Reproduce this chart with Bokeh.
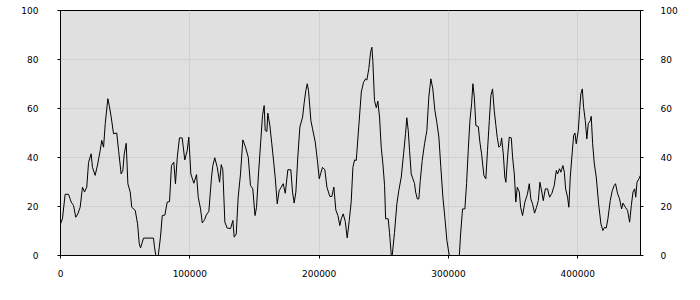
from bokeh.plotting import figure
from bokeh.models import LinearAxis, Range1d, FixedTicker, ColumnDataSource
from bokeh.embed import file_html
from bokeh.resources import INLINE

# x positions (thousands) and values
x_k = [0, 1.5, 3.6, 6.2, 7.5, 8.3, 10.1, 11.8, 13.4, 15.2, 17.0, 18.6, 20.3, 21.7, 23.7, 24.7,
       26.8, 28.8, 30.7, 31.9, 33.3, 34.6, 36.6, 37.7, 39.2, 41.0, 43.5, 44.9, 46.9, 48.2, 49.3,
       50.8, 52.1, 53.9, 55.1, 57.8, 59.6, 60.9, 61.9, 64.2, 71.9, 72.7, 73.7, 75.6, 77.3, 78.7,
       80.7, 82.5, 84.3, 85.8, 87.6, 88.9, 90.3, 92.0, 94.1, 96.1, 98.0, 99.2, 100.8, 103.1,
       105.2, 106.5, 108.3, 109.6, 111.4, 112.7, 114.7, 116.8, 117.8, 119.3, 121.2, 123.0, 124.3,
       125.5, 127.1, 128.9, 131.5, 133.3, 134.3, 135.9, 137.4, 139.2, 141.0, 143.1, 145.2, 146.9,
       148.7, 150.4, 151.6, 153.1, 154.9, 156.2, 157.5, 158.3, 159.6, 160.3, 161.9, 163.4, 165.0,
       166.0, 167.6, 169.1, 170.7, 172.2, 173.8, 175.8, 178.1, 179.4, 180.7, 182.0, 183.5, 185.1,
       187.2, 188.5, 189.7, 190.8, 191.8, 193.6, 194.9, 197.0, 198.8, 200.1, 201.1, 202.6, 204.4,
       206.0, 208.3, 209.8, 211.4, 212.9, 214.5, 216.0, 217.1, 218.6, 220.2, 221.7, 223.3, 224.8,
       226.1, 227.4, 228.7, 230.7, 232.6, 234.3, 235.9, 236.9, 238.4, 239.8, 240.8, 241.5, 242.8,
       244.2, 245.4, 246.7, 248.0, 249.3, 250.6, 251.4, 253.4, 254.4, 255.8, 256.5, 258.3, 260.1,
       261.6, 263.5, 265.3, 266.8, 267.8, 268.9, 269.9, 271.2, 272.5, 273.8, 274.6, 275.9, 277.1,
       278.2, 279.7, 281.5, 283.3, 284.8, 286.4, 287.9, 289.5, 291.0, 292.6, 294.1, 295.7, 297.2,
       298.8, 300.6, 308.4, 309.4, 310.9, 312.7, 314.0, 315.3, 316.6, 317.9, 318.9, 320.0, 321.2,
       323.1, 324.3, 325.6, 327.4, 328.9, 330.2, 331.6, 332.8, 334.1, 335.4, 336.7, 337.7, 339.0,
       340.3, 341.1, 342.4, 343.6, 344.4, 345.7, 347.0, 348.6, 349.6, 350.9, 352.1, 353.2, 354.8,
       355.8, 357.3, 359.1, 361.0, 362.5, 363.7, 365.0, 366.6, 368.1, 369.5, 370.7, 372.2, 373.3,
       374.9, 376.6, 378.2, 380.0, 381.8, 383.4, 384.4, 385.9, 386.9, 388.5, 389.6, 390.6, 392.1,
       393.1, 394.2, 395.4, 396.8, 397.8, 398.8, 400.4, 401.4, 402.4, 403.5, 404.5, 405.8, 407.0,
       408.1, 409.7, 410.4, 411.5, 412.8, 414.3, 416.1, 417.9, 419.4, 420.7, 422.0, 423.3, 425.1,
       426.7, 428.2, 429.2, 430.8, 432.3, 433.9, 434.9, 436.8, 438.5, 440.1, 441.4, 442.7, 444.0,
       444.8, 445.8, 447.3, 448.4]
values = [12.9, 15, 25, 25, 23, 21.8, 20.4, 15.6, 17, 19.7, 27.9, 25.9, 27.9, 38, 41.5, 36,
          32.7, 37.4, 42.9, 47, 44.2, 53.8, 64, 61.2, 56.5, 49.7, 50, 42.9, 33.3, 34.7, 41.5,
          45.8, 29.3, 25.9, 19.7, 18.4, 12.9, 4.8, 3.1, 7.1, 7.1, 3.4, 0, 0, 7.5, 16.3,
          16.5, 21.8, 22, 36.7, 38.1, 29.3, 40.1, 48, 48, 39, 42.9, 48.3, 33.3, 29.5,
          33, 23.8, 19, 13.3, 14.6, 16.5, 18, 32, 36.7, 39.9, 36, 29.9, 37.1,
          35, 13.6, 11.2, 11, 14.3, 7.5, 8.8, 23.8, 33.3, 47.2, 44.2, 40.1, 28.6,
          27.2, 16.3, 19.7, 33.3, 47, 57.1, 61.2, 51, 50.6, 58.1, 53, 45.6, 37.4,
          32, 21.1, 26.5, 27.9, 29.3, 25.4, 35, 35, 25.9, 21.4, 25.9, 40.1, 52.4,
          56.5, 62.6, 67.3, 70.1, 67.3, 55.1, 51.7, 46.3, 38.1, 31.3, 33.3, 36, 35,
          27.9, 24.1, 24.1, 27.9, 18.6, 16.3, 12.2, 15, 17, 13.9, 7.2, 14.3, 22,
          36, 39, 38.8, 53, 66.7, 70.7, 72.1, 71.6, 76.2, 83, 85, 79.6, 63.3,
          60.3, 63, 56.5, 44.2, 37.4, 28.6, 15, 15, 9.5, 0, 0, 9.5, 21.1,
          26.5, 32, 41.5, 49.7, 56.2, 51, 42.9, 33.3, 31.3, 29.3, 25.9, 23.1, 23.1,
          30.6, 38.8, 45.6, 51, 64.6, 72.1, 68, 59.2, 54.4, 48.3, 36, 23.8, 15.6,
          6.1, 0, 0, 8.8, 19, 19, 29.3, 42.9, 55.1, 61.9, 70.1, 64.6, 53,
          52.6, 46.3, 41.5, 32.7, 31.3, 42.9, 55.1, 65.3, 68, 59.2, 53, 48.3, 44.2,
          44.9, 48, 41.5, 32, 29.9, 40.1, 48.3, 48, 40.1, 33.3, 21.8, 27.9, 25.9,
          19.7, 16.3, 21.8, 24.9, 29.3, 23.1, 21.1, 17.3, 19.7, 22.4, 29.9, 25.9, 22.4,
          27.2, 27.2, 23.8, 25.4, 28.6, 34.7, 33.3, 35.4, 34, 36.7, 34, 27.2, 23.8,
          19.7, 32, 40.1, 49, 50, 45.6, 51, 59.2, 66, 68, 60.5, 55.1, 47.6,
          53.8, 55.1, 56.8, 45.6, 37.4, 32, 21.1, 12.9, 10.2, 11.5, 11.2, 15, 22.4,
          26.5, 28.6, 29.3, 25.2, 23.1, 19, 21.4, 19.7, 18.4, 13.6, 20.4, 25.9, 27.2,
          23.8, 29.9, 31.3, 32.7]
x_ticks = [0, 100000, 200000, 300000, 400000]
y_ticks = [0, 20, 40, 60, 80, 100]

xs = [v * 1000 for v in x_k]
src = ColumnDataSource(data=dict(x=xs, y=values))

p = figure(width=700, height=300, output_backend="svg", toolbar_location=None,
           x_range=Range1d(0, 448500), y_range=Range1d(0, 100),
           min_border_left=60, min_border_right=60, min_border_top=10, min_border_bottom=45)
p.background_fill_color = "#e0e0e0"
p.border_fill_color = "white"
p.outline_line_color = "black"
p.outline_line_width = 1

p.line("x", "y", source=src, line_color="black", line_width=1)

font = "DejaVu Sans"
def style(ax):
    ax.axis_line_color = "black"
    ax.major_tick_line_color = "black"
    ax.major_tick_out = 3
    ax.major_tick_in = 0
    ax.minor_tick_line_color = None
    ax.major_label_text_font = font
    ax.major_label_text_font_size = "9px"
    ax.major_label_text_color = "black"

p.xaxis.ticker = FixedTicker(ticks=x_ticks)
p.yaxis.ticker = FixedTicker(ticks=y_ticks)
p.xaxis.formatter.use_scientific = False
for ax in p.xaxis:
    style(ax)
    ax.major_label_standoff = 11
for ax in p.yaxis:
    style(ax)
    ax.major_label_standoff = 19

ra = LinearAxis(ticker=FixedTicker(ticks=y_ticks))
style(ra)
ra.major_label_standoff = 17
p.add_layout(ra, "right")

p.xgrid.ticker = FixedTicker(ticks=x_ticks)
p.ygrid.ticker = FixedTicker(ticks=y_ticks)
p.grid.grid_line_color = "#d0d0d0"
p.grid.grid_line_width = 1

open("out.html", "w").write(file_html(p, INLINE))
